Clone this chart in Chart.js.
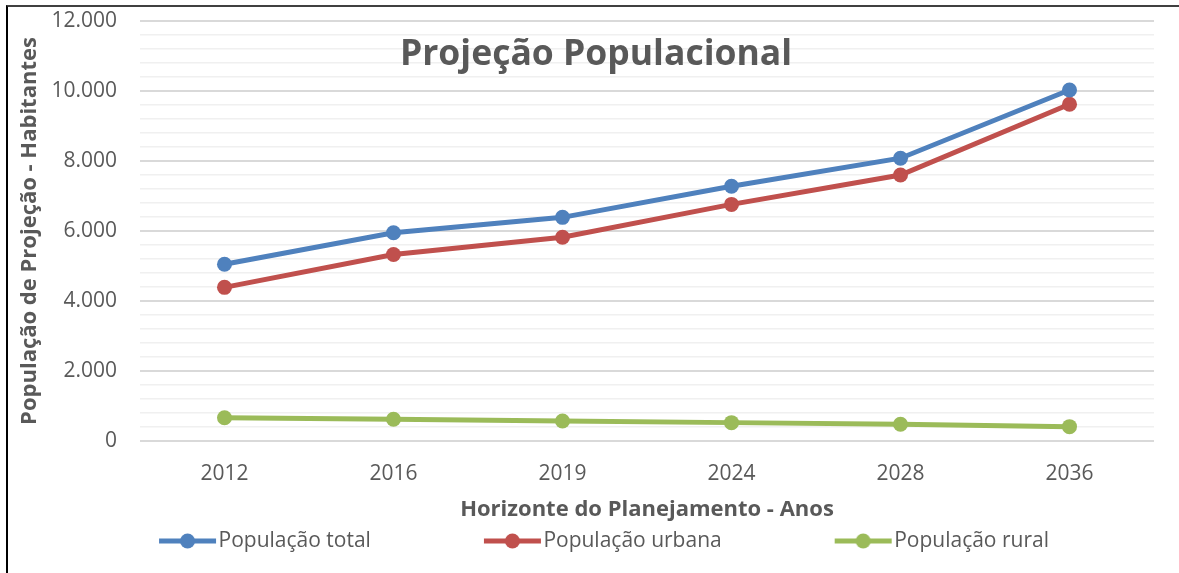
<!DOCTYPE html>
<html lang="pt">
  <head>
    <meta charset="UTF-8" />
    <title>Projeção Populacional</title>
    <style>
      body { margin: 0; background: #fff; }
      #wrap { position: relative; width: 1179px; height: 573px; overflow: hidden; }
      /* canvas is shifted left so the centred legend lands where Excel put it */
      #holder { position: absolute; left: -51px; top: 0; width: 1230px; height: 573px; }
      #frame {
        position: absolute; left: 6px; top: 5px; width: 1300px; height: 700px;
        border-top: 2px solid #404040; border-left: 2px solid #000;
        pointer-events: none;
      }
      #chart-title {
        position: absolute; left: 0; width: 1192px; top: 27px;
        text-align: center; font: bold 35.5px "Open Sans", sans-serif; color: #595959;
        pointer-events: none;
      }
    </style>
  </head>
  <body>
    <div id="wrap">
      <div id="holder"><canvas id="my-chart"></canvas></div>
      <div id="chart-title">Projeção Populacional</div>
      <div id="frame"></div>
    </div>

    <script src="https://cdn.jsdelivr.net/npm/chart.js"></script>
    <script>
      const years = ["2012", "2016", "2019", "2024", "2028", "2036"];
      const popTotal = [5050, 5950, 6390, 7280, 8080, 10030];
      const popUrbana = [4390, 5330, 5820, 6760, 7600, 9620];
      const popRural = [665, 620, 570, 525, 480, 410];

      const blue = "#4F81BD";
      const red = "#C0504D";
      const green = "#9BBB59";
      const grey = "#595959";

      // legend glyph: line with a dot; box is wide to give Excel-like gaps
      const boxW = 154;
      const extra = 12;
      function makeGlyph(color) {
        const c = document.createElement("canvas");
        c.width = boxW + 2 * extra;
        c.height = 18;
        const g = c.getContext("2d");
        const end = extra + boxW + 8;
        g.strokeStyle = color;
        g.lineWidth = 5;
        g.beginPath();
        g.moveTo(end - 57, 9);
        g.lineTo(end, 9);
        g.stroke();
        g.fillStyle = color;
        g.beginPath();
        g.arc(end - 28.5, 9, 7.5, 0, Math.PI * 2);
        g.fill();
        return c;
      }
      const glyphs = [makeGlyph(blue), makeGlyph(red), makeGlyph(green)];

      function fmt(v) {
        return String(v).replace(/\B(?=(\d{3})+(?!\d))/g, ".");
      }

      Chart.defaults.font.family = "'Open Sans', sans-serif";
      Chart.defaults.color = grey;

      const ctx = document.getElementById("my-chart").getContext("2d");

      function series(label, data, color) {
        return {
          label: label,
          data: data,
          borderColor: color,
          backgroundColor: color,
          borderWidth: 5,
          pointRadius: 7.5,
          pointHoverRadius: 7.5,
          pointBorderWidth: 0,
          pointBackgroundColor: color,
          tension: 0,
        };
      }

      const chart = new Chart(ctx, {
        type: "line",
        data: {
          labels: years,
          datasets: [
            series("População total", popTotal, blue),
            series("População urbana", popUrbana, red),
            series("População rural", popRural, green),
          ],
        },
        options: {
          responsive: true,
          maintainAspectRatio: false,
          animation: false,
          layout: { padding: { top: 21, right: 25, bottom: 11.5, left: 0 } },
          plugins: {
            tooltip: { enabled: false },
            title: { display: false },
            legend: {
              position: "bottom",
              labels: {
                usePointStyle: true,
                pointStyleWidth: boxW,
                boxHeight: 18,
                padding: 8,
                color: grey,
                font: { size: 21 },
                generateLabels: function (c) {
                  const items = Chart.defaults.plugins.legend.labels.generateLabels(c);
                  items.forEach(function (it, i) {
                    it.pointStyle = glyphs[i];
                  });
                  return items;
                },
              },
            },
          },
          scales: {
            x: {
              offset: true,
              grid: { display: false, drawTicks: false },
              border: { display: false },
              ticks: { padding: 20, font: { size: 21 }, color: grey },
              title: {
                display: true,
                text: "Horizonte do Planejamento - Anos",
                color: grey,
                font: { size: 22, weight: "bold" },
                padding: { top: 0, bottom: 0 },
              },
              afterFit: function (scale) {
                scale.height = 81.5;
              },
            },
            y: {
              min: 0,
              max: 12000,
              border: { display: false },
              grid: {
                drawTicks: true,
                tickLength: 23,
                tickColor: "rgba(0,0,0,0)",
                color: function (c) {
                  return c.tick && c.tick.value % 2000 === 0 ? "#D9D9D9" : "#F0F0F0";
                },
                lineWidth: function (c) {
                  return c.tick && c.tick.value % 2000 === 0 ? 2 : 1.5;
                },
              },
              ticks: {
                stepSize: 400,
                autoSkip: false,
                padding: 0,
                font: { size: 21 },
                color: grey,
                callback: function (v) {
                  return v % 2000 === 0 ? fmt(v) : "";
                },
              },
              title: {
                display: true,
                text: "População de Projeção - Habitantes",
                color: grey,
                font: { size: 22, weight: "bold" },
                padding: { top: 68, bottom: 0 },
              },
              afterFit: function (scale) {
                scale.width = 191;
              },
            },
          },
        },
      });
    </script>
  </body>
</html>
